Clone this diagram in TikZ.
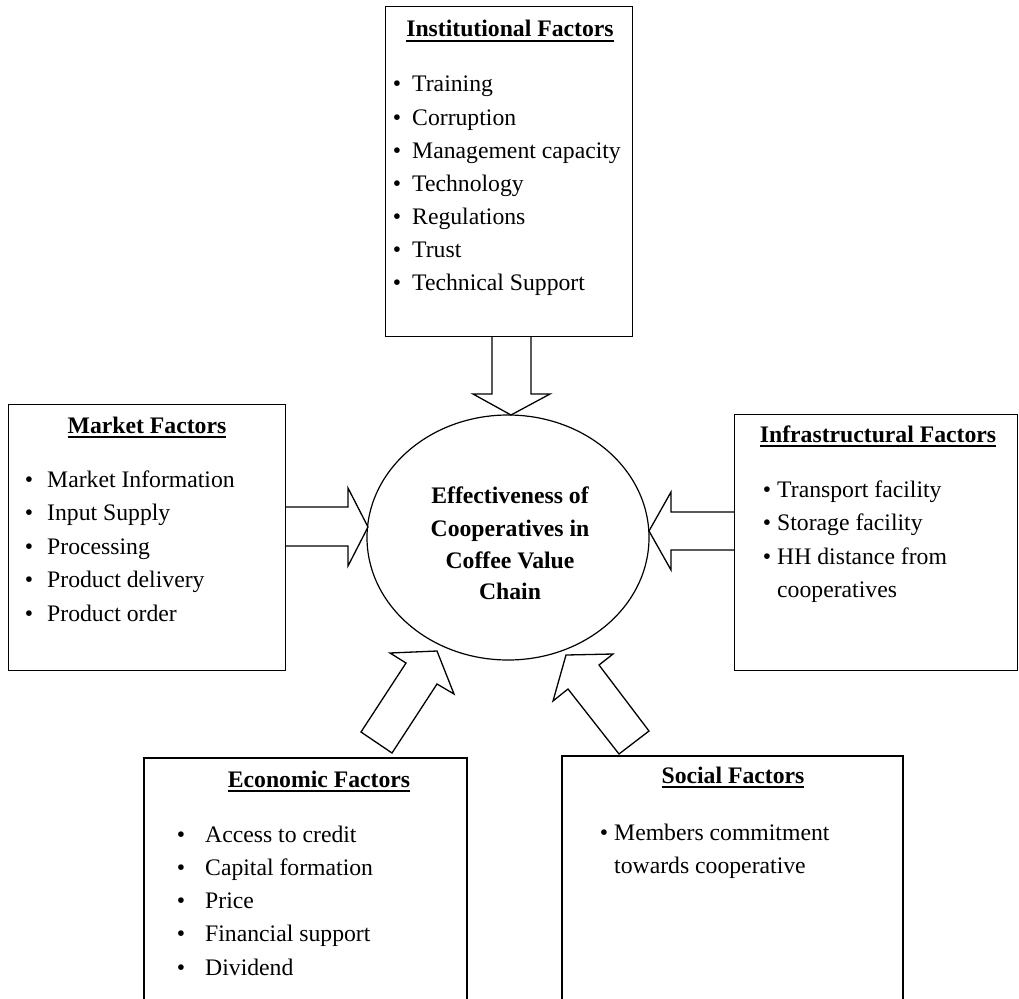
\documentclass[tikz,border=0pt]{standalone}
\usepackage{fontspec}
\setmainfont{Liberation Serif}
\usetikzlibrary{shapes.geometric}
\newcommand\myul[1]{\setbox0=\hbox{#1}\rlap{\rule[-4.6pt]{\wd0}{1.5pt}}\box0}
\begin{document}
\begin{tikzpicture}[x=1pt,y=-1pt,
  box/.style={draw, line width=1.4pt, inner sep=0pt, anchor=north west},
  blockarrow/.style={draw, line width=1.3pt, line join=miter},
  txt/.style={anchor=base west, inner sep=0pt, font=\fontsize{23.7}{28}\selectfont},
  bul/.style={anchor=base, inner sep=0pt, font=\fontsize{23.7}{28}\selectfont},
  ttl/.style={anchor=base, inner sep=0pt, font=\fontsize{23.7}{28}\selectfont\bfseries},
]
\useasboundingbox (0,0) rectangle (1019,998);

% boxes
\node[box, minimum width=247pt, minimum height=330pt] (inst) at (385,6) {};
\node[box, minimum width=277pt, minimum height=266pt] (mkt) at (8,404) {};
\node[box, minimum width=283pt, minimum height=256pt] (infra) at (734,414) {};
\coordinate (ecoA) at (144,1010);
\coordinate (ecoB) at (144,758);
\coordinate (ecoC) at (467,758);
\coordinate (ecoD) at (467,1010);
\draw[line width=1.4pt] (ecoA) -- (ecoB) -- (ecoC) -- (ecoD);
\coordinate (socA) at (562,1010);
\coordinate (socB) at (562,756);
\coordinate (socC) at (903,756);
\coordinate (socD) at (903,1010);
\draw[line width=1.4pt] (socA) -- (socB) -- (socC) -- (socD);

% central ellipse
\node[draw, ellipse, line width=1.2pt, inner sep=0pt, minimum width=282pt, minimum height=245pt] (eff) at (508,537.5) {};

% block arrows
\draw[blockarrow] (492,336) -- (492,394) -- (473,394) -- (511,415) -- (550,394) -- (531,394) -- (531,336);
\draw[blockarrow] (285,507) -- (348,507) -- (348,488) -- (368,527) -- (348,566) -- (348,546) -- (285,546);
\draw[blockarrow] (734,512) -- (671,512) -- (671,492) -- (649,531) -- (671,570) -- (671,550) -- (734,550);
\draw[blockarrow] (361,732) -- (406,663) -- (390,653) -- (437,651) -- (454,694) -- (437,684) -- (392,753) -- cycle;
\draw[blockarrow] (566,655) -- (613,654) -- (599,665) -- (649,731) -- (619,754) -- (568,689) -- (553,701) -- cycle;

% centre text
\node[ttl] (c1) at (510,503) {Effectiveness of};
\node[ttl] (c2) at (510,536) {Cooperatives in};
\node[ttl] (c3) at (510,568) {Coffee Value};
\node[ttl] (c4) at (510,599) {Chain};

% Institutional
\node[ttl] (tinst) at (510,37) {\myul{Institutional Factors}};
\foreach \t [count=\i from 0] in {Training,Corruption,Management capacity,Technology,Regulations,Trust,Technical Support}{
  \node[bul] (bi\i) at (397,92+33*\i) {\textbullet};
  \node[txt] (ii\i) at (412,92+33*\i) {\t};
}

% Market
\node[ttl] (tmkt) at (147,433) {\myul{Market Factors}};
\foreach \t [count=\i from 0] in {Market Information,Input Supply,Processing,Product delivery,Product order}{
  \node[bul] (bm\i) at (29,487+33.5*\i) {\textbullet};
  \node[txt] (im\i) at (47,487+33.5*\i) {\t};
}

% Infrastructural
\node[ttl] (tinf) at (878,442) {\myul{Infrastructural Factors}};
\foreach \t [count=\i from 0] in {Transport facility,Storage facility,HH distance from}{
  \node[bul] (bf\i) at (767,497+33.5*\i) {\textbullet};
  \node[txt] (if\i) at (777,497+33.5*\i) {\t};
}
\node[txt] (if3) at (777,597) {cooperatives};

% Economic
\node[ttl] (teco) at (319,787) {\myul{Economic Factors}};
\foreach \t [count=\i from 0] in {Access to credit,Capital formation,Price,Financial support,Dividend}{
  \node[bul] (be\i) at (181,842+33.3*\i) {\textbullet};
  \node[txt] (ie\i) at (205,842+33.3*\i) {\t};
}

% Social
\node[ttl] (tsoc) at (733,783) {\myul{Social Factors}};
\node[bul] (bs0) at (604,840) {\textbullet};
\node[txt] (is0) at (614,840) {Members commitment};
\node[txt] (is1) at (614,873) {towards cooperative};
\end{tikzpicture}
\end{document}
